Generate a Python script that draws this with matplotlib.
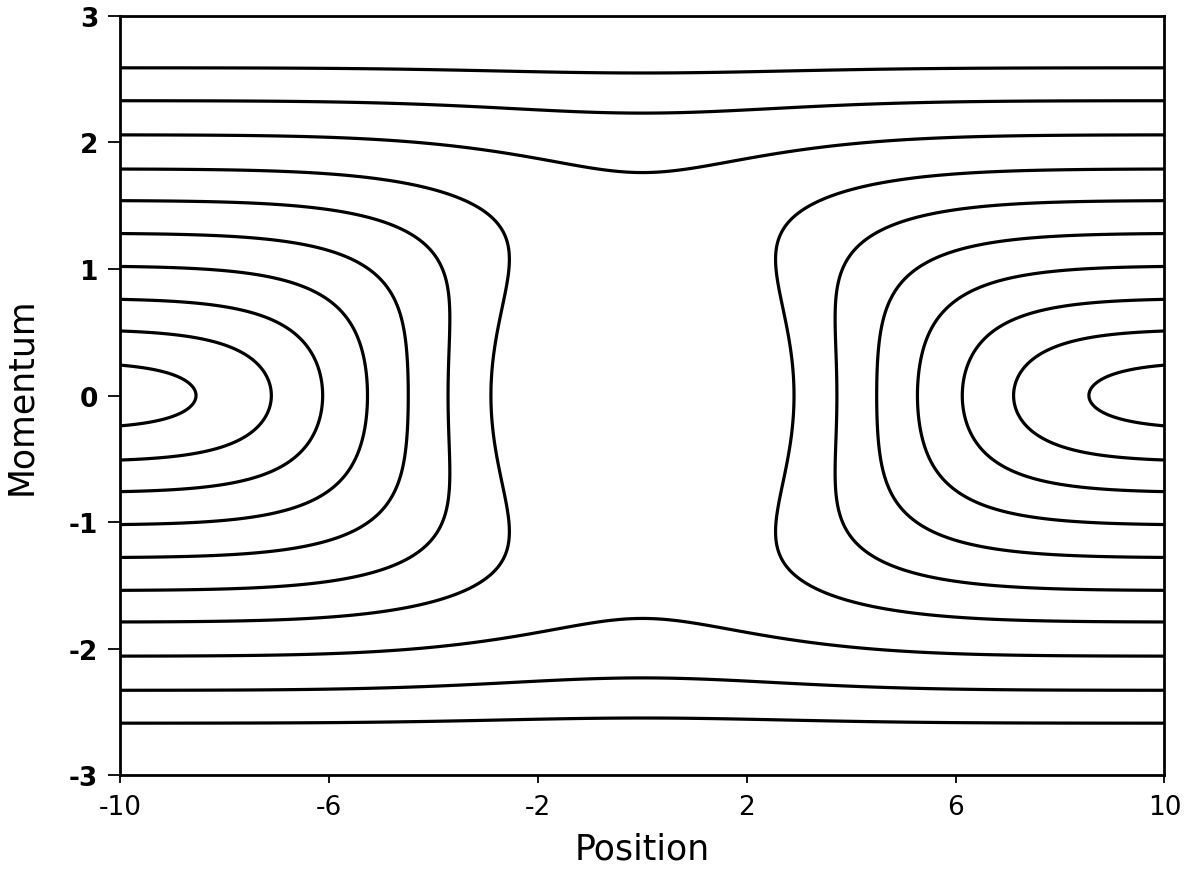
import numpy as np
import matplotlib
matplotlib.use("Agg")
import matplotlib.pyplot as plt

# ---- values ----
# momentum at which each contour meets the x = +/-10 edges
edge_momenta = [0.24, 0.51, 0.76, 1.02, 1.28, 1.54, 1.79, 2.06, 2.33, 2.59]
barrier_height = 2.7      # gaussian amplitude
barrier_width = 2.91      # gaussian sigma in position
barrier_cap = 2.0         # flat top of the barrier at zero momentum
cap_growth = 0.25         # the flat top fades out with momentum
cap_sharpness = 8
momentum_damping = 0.5    # exp(-b p^2) damping of the barrier

x_ticks = [-10, -6, -2, 2, 6, 10]
x_ticklabels = ["-10", "-6", "-2", "2", "6", "10"]
y_ticks = [-3, -2, -1, 0, 1, 2, 3]
y_ticklabels = ["-3", "-2", "-1", "0", "1", "2", "3"]
x_range = (-10, 10)
y_range = (-3, 3)


def effective_barrier(x, p):
    u = barrier_height * np.exp(-x ** 2 / (2 * barrier_width ** 2))
    cap = barrier_cap * np.exp(cap_growth * p ** 2)
    capped = u / (1 + (u / cap) ** cap_sharpness) ** (1 / cap_sharpness)
    return capped * np.exp(-momentum_damping * p ** 2)


def hamiltonian(x, p):
    return p ** 2 / 2 + effective_barrier(x, p)


xs = np.linspace(x_range[0], x_range[1], 1201)
ps = np.linspace(y_range[0], y_range[1], 901)
X, P = np.meshgrid(xs, ps)
H = hamiltonian(X, P)
levels = sorted(hamiltonian(np.full(len(edge_momenta), float(x_range[1])),
                            np.array(edge_momenta)))

fig = plt.figure(figsize=(11.88, 8.70), dpi=100)
ax = fig.add_axes([0.1014, 0.108, 0.8788, 0.8725])
ax.contour(X, P, H, levels=levels, colors="black", linewidths=2.3)

ax.set_xlim(*x_range)
ax.set_ylim(*y_range)
ax.set_xticks(x_ticks)
ax.set_xticklabels(x_ticklabels, fontsize=19, family="DejaVu Sans")
ax.set_yticks(y_ticks)
ax.set_yticklabels(y_ticklabels, fontsize=19, family="DejaVu Sans", fontweight="bold")
ax.tick_params(axis="x", direction="out", length=6, width=1.3, pad=8)
ax.tick_params(axis="y", direction="out", length=9, width=1.3, pad=7)
for s in ax.spines.values():
    s.set_linewidth(2.0)
ax.set_xlabel("Position", fontsize=25, family="DejaVu Sans", labelpad=8)
ax.set_ylabel("Momentum", fontsize=25, family="DejaVu Sans", labelpad=22)

fig.savefig("out.png", dpi=100)
